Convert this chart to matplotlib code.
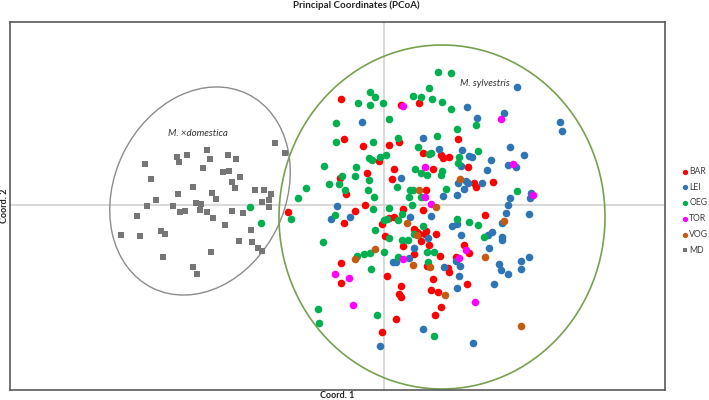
import matplotlib
matplotlib.use("Agg")
import matplotlib.pyplot as plt
from matplotlib.patches import Ellipse

plt.rcParams['font.family'] = ['Lato', 'DejaVu Sans']

# ---- data (Coord. 1, Coord. 2) ----
bar_x = [-0.43, 0.17, 0.35, 0.74, 0.15, 0.05, -0.21, -0.40, 0.39, 0.57, 0.59, 0.65, 0.84, -0.05, 0.10,
         0.49, -0.17, 0.08, 0.42, 0.90, 0.92, 1.09, -0.44, -0.38, -0.19, 0.19, 0.39, -0.29, -0.96, -0.40,
         0.10, 0.05, -0.02, 0.30, 0.42, 0.41, 0.33, 0.35, 0.52, 0.01, 0.37, 0.45, 0.80, 0.19, 0.30,
         0.56, 0.85, 0.72, 0.43, 0.64, 0.65, 0.03, 0.49, 0.17, 0.83, 0.47, 0.54, 0.15, 0.17, -0.43,
         -0.43, 0.57, 0.51, 0.12, -0.02, 1.01]
bar_y = [1.06, 1.00, 1.02, 0.66, 0.63, 0.60, 0.59, 0.66, 0.52, 0.50, 0.47, 0.48, 0.38, 0.44, 0.36,
         0.36, 0.32, 0.26, 0.15, 0.22, 0.18, 0.23, 0.27, 0.11, 0.00, -0.04, -0.05, -0.06, -0.07, -0.18,
         -0.12, -0.13, -0.19, -0.24, -0.26, -0.29, -0.27, -0.29, -0.29, -0.31, -0.36, -0.40, -0.40, -0.41, -0.49,
         -0.51, -0.48, -0.52, -0.61, -0.63, -0.67, -0.71, -0.74, -0.81, -0.79, -0.85, -0.87, -0.89, -0.92, -0.58,
         -0.78, -1.02, -1.10, -1.14, -1.27, -0.10]

lei_x = [0.83, -0.22, 1.33, 1.20, 0.93, 1.76, 1.78, 0.39, 0.55, 0.78, 0.85, 0.88, 0.77, 1.07, 1.26,
         1.40, 1.24, 1.32, 1.03, 0.17, 0.74, 0.82, 0.84, 0.98, 0.80, 0.59, 0.73, 1.26, 1.47, 1.46,
         1.24, 1.45, 1.22, 1.18, -0.47, -0.53, -0.34, 0.26, 0.47, 0.68, 0.73, 0.77, 0.44, 1.08, 1.04,
         1.18, 1.18, 0.30, 1.05, 0.09, 0.12, 0.25, 0.72, 0.76, 0.60, 0.75, 0.73, 1.15, 1.17, 1.24,
         1.37, 1.37, 1.45, 1.10, 0.39, 0.89, -0.04]
lei_y = [0.98, 0.83, 1.18, 0.92, 0.87, 0.83, 0.74, 0.67, 0.56, 0.55, 0.49, 0.48, 0.39, 0.45, 0.58,
         0.50, 0.40, 0.38, 0.35, 0.27, 0.22, 0.24, 0.22, 0.22, 0.16, 0.09, 0.10, 0.07, 0.12, 0.07,
         0.00, -0.09, -0.08, -0.18, -0.01, -0.14, -0.12, -0.12, -0.11, -0.21, -0.19, -0.30, -0.33, -0.27, -0.30,
         -0.32, -0.35, -0.43, -0.43, -0.57, -0.57, -0.53, -0.56, -0.61, -0.62, -0.71, -0.83, -0.59, -0.65, -0.69,
         -0.56, -0.64, -0.52, -0.79, -1.24, -1.38, -1.41]

oeg_x = [-0.14, -0.09, -0.14, -0.01, -0.26, 0.29, 0.37, 0.45, 0.48, 0.58, 0.67, 0.54, 0.67, 0.05, -0.48,
         0.92, 0.73, 0.53, 0.14, -0.11, -0.48, 0.34, 0.94, 0.445, 0.47, 0.75, 0.74, -0.15, -0.12, -0.04,
         0.02, -0.60, -0.28, 0.31, 0.37, 0.43, 0.58, 0.57, -0.15, -0.42, -0.29, -0.55, -0.45, -0.78, -0.39,
         0.13, 0.62, -0.16, 0.26, 0.29, 0.37, -0.10, 0.25, -0.86, 1.33, -0.11, 0.05, 0.28, 0.18, 0.00,
         0.03, 0.14, 0.73, 0.85, 0.94, -0.09, 0.39, 0.30, 0.05, 0.18, 0.24, 1.00, -0.49, -0.93, -1.34,
         -1.23, -0.61, -0.20, -0.14, 0.00, 0.43, 0.50, 0.14, -0.27, 0.44, -0.13, -0.66, -0.65, -0.07, 0.50]
oeg_y = [1.13, 1.08, 1.00, 1.02, 1.02, 1.09, 1.08, 1.17, 1.06, 1.03, 0.96, 1.33, 1.32, 0.86, 0.82,
         0.80, 0.76, 0.69, 0.67, 0.63, 0.63, 0.58, 0.54, 0.51, 0.52, 0.48, 0.42, 0.47, 0.45, 0.48,
         0.50, 0.39, 0.38, 0.36, 0.32, 0.30, 0.34, 0.30, 0.25, 0.29, 0.29, 0.21, 0.21, 0.17, 0.15,
         0.18, 0.16, 0.15, 0.15, 0.15, 0.08, 0.08, 0.08, 0.07, 0.14, -0.04, -0.03, 0.00, -0.09, -0.15,
         -0.14, -0.15, -0.14, -0.17, -0.20, -0.25, -0.21, -0.29, -0.33, -0.35, -0.35, -0.32, -0.10, -0.14, -0.02,
         -0.18, -0.37, -0.49, -0.48, -0.47, -0.47, -0.47, -0.52, -0.51, -0.57, -0.64, -1.04, -1.18, -1.10, -1.31]

tor_x = [0.19, 1.17, 0.41, 1.29, 0.41, 0.47, 1.49, 0.82, 0.75, 0.19, -0.49, -0.35, -0.31, 0.91]
tor_y = [0.99, 0.86, 0.38, 0.41, 0.08, 0.01, 0.10, -0.45, -0.53, -0.54, -0.69, -0.73, -1.00, -0.97]

vog_x = [0.76, 0.35, 0.52, 0.23, 0.325, -0.09, -0.29, 0.29, 0.46, 0.61, 1.20, 1.01, 1.37]
vog_y = [0.26, 0.15, -0.02, -0.175, -0.30, -0.44, -0.54, -0.60, -0.62, -0.90, -0.16, -0.52, -1.21]

md_x = [-1.09, -0.99, -1.77, -2.07, -1.97, -2.05, -1.56, -1.48, -1.74, -2.39, -1.81, -1.61, -1.55, -1.44,
        -2.33, -1.52, -1.49, -1.91, -1.29, -1.20, -1.13, -1.72, -2.06, -1.68, -2.28, -1.15, -1.22, -1.88,
        -1.83, -1.15, -2.37, -2.11, -1.84, -2.04, -1.99, -1.77, -1.52, -1.41, -2.47, -1.71, -1.59, -2.23,
        -2.19, -2.63, -2.44, -1.33, -1.45, -1.32, -1.26, -1.22, -1.73, -2.21, -1.91, -1.87]
md_y = [0.62, 0.52, 0.55, 0.48, 0.50, 0.43, 0.50, 0.46, 0.46, 0.41, 0.37, 0.33, 0.34, 0.28,
        0.26, 0.23, 0.17, 0.18, 0.15, 0.15, 0.11, 0.12, 0.11, 0.06, 0.05, 0.05, 0.03, 0.02,
        0.01, -0.02, -0.01, -0.01, -0.05, -0.07, -0.06, -0.07, -0.06, -0.08, -0.11, -0.13, -0.20, -0.26,
        -0.29, -0.30, -0.31, -0.25, -0.36, -0.37, -0.43, -0.46, -0.47, -0.52, -0.62, -0.69]

groups = ["BAR", "LEI", "OEG", "TOR", "VOG", "MD"]
colors = {"BAR": "#ff0000", "LEI": "#2e75b6", "OEG": "#00b050",
          "TOR": "#ff00ff", "VOG": "#c55a11", "MD": "#767676"}

fig = plt.figure(figsize=(7.09, 4.00), dpi=100)
ax = fig.add_axes([10/709, 10/400, 655/709, 368/400])
ax.set_xlim(-3.74, 2.81)
ax.set_ylim(-1.85, 1.83)

ax.axhline(0, color="#d9d9d9", lw=1.5, zorder=0)
ax.axvline(0, color="#d9d9d9", lw=1.5, zorder=0)

ax.add_patch(Ellipse((-1.84, 0.14), 1.71, 2.16, angle=-26, fill=False,
                     edgecolor="#8c8c8c", lw=1.0, zorder=1))
ax.add_patch(Ellipse((0.58, -0.12), 3.26, 3.44, angle=0, fill=False,
                     edgecolor="#77a04f", lw=1.2, zorder=1))

ax.scatter(md_x, md_y, marker="s", s=20, color=colors["MD"], linewidths=0, label="MD", zorder=2)
ax.scatter(bar_x, bar_y, marker="o", s=30, color=colors["BAR"], linewidths=0, label="BAR", zorder=3)
ax.scatter(lei_x, lei_y, marker="o", s=30, color=colors["LEI"], linewidths=0, label="LEI", zorder=3)
ax.scatter(oeg_x, oeg_y, marker="o", s=30, color=colors["OEG"], linewidths=0, label="OEG", zorder=3)
ax.scatter(tor_x, tor_y, marker="o", s=30, color=colors["TOR"], linewidths=0, label="TOR", zorder=4)
ax.scatter(vog_x, vog_y, marker="o", s=30, color=colors["VOG"], linewidths=0, label="VOG", zorder=4)

ax.text(-1.86, 0.72, "M. \u00d7domestica", style="italic", fontsize=7, ha="center", va="center", color="#333333")
ax.text(1.01, 1.21, "M. sylvestris", style="italic", fontsize=7, ha="center", va="center", color="#333333")

ax.set_xticks([])
ax.set_yticks([])
for sp in ax.spines.values():
    sp.set_color("#5a5a5a")
    sp.set_linewidth(1.2)

handles, labels = ax.get_legend_handles_labels()
order = [labels.index(g) for g in groups]
leg = fig.legend([handles[i] for i in order], [labels[i] for i in order],
                 loc="upper left", bbox_to_anchor=(682/709, 1 - 167/400),
                 frameon=False, fontsize=6.2, handlelength=0.6, handletextpad=0.25,
                 labelspacing=0.78, markerscale=0.7, borderpad=0, borderaxespad=0)
for t in leg.get_texts():
    t.set_color("#404040")

fig.text(356/709, 1 - 5/400, "Principal Coordinates (PCoA)", ha="center", va="center",
         fontsize=7, fontweight="bold", color="#222222")
fig.text(337.5/709, 1 - 396/400, "Coord. 1", ha="center", va="center",
         fontsize=6.5, fontweight="bold", color="#222222")
fig.text(5/709, 1 - 206/400, "Coord. 2", ha="center", va="center", rotation=90,
         fontsize=6.5, fontweight="bold", color="#222222")

fig.savefig("out.png", dpi=100)
